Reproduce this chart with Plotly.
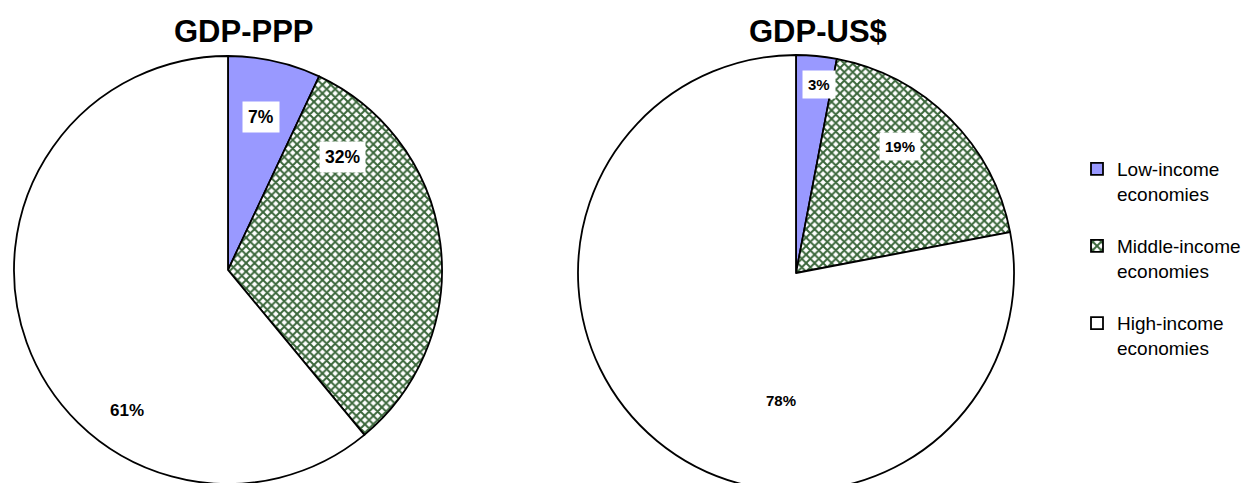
import math
import plotly.graph_objects as go

# ---- data ----
categories = ["Low-income<br>economies", "Middle-income<br>economies", "High-income<br>economies"]
ppp_values = [7, 32, 61]
usd_values = [3, 19, 78]
titles = ["GDP-PPP", "GDP-US$"]

# ---- layout geometry (pixels) ----
W, H = 1249, 495
pies = [dict(cx=228, cy=270, r=214), dict(cx=796, cy=273, r=218)]
title_x = [244, 818]
title_y = 32
# label placement: (angle clockwise from top in degrees, fraction of radius)
label_pos = [
    [(12.2, 0.73), (45.3, 0.75), (215.8, 0.81)],
    [(7.0, 0.87), (39.5, 0.75), (186.7, 0.59)],
]
label_size = [[17.5, 17.5, 17], [15, 15, 15]]

colors = ["#9999FF", "#FFFFFF", "#FFFFFF"]
shapes = ["", "x", ""]

fig = go.Figure()
annotations = []
for i, (vals, geo) in enumerate(zip([ppp_values, usd_values], pies)):
    x0 = (geo["cx"] - geo["r"]) / W
    x1 = (geo["cx"] + geo["r"]) / W
    y0 = 1 - (geo["cy"] + geo["r"]) / H
    y1 = 1 - (geo["cy"] - geo["r"]) / H
    fig.add_trace(go.Pie(
        labels=[c + "<br> " for c in categories],
        values=vals,
        sort=False,
        direction="clockwise",
        rotation=0,
        textinfo="none",
        hoverinfo="skip",
        showlegend=(i == 0),
        domain=dict(x=[x0, x1], y=[max(0, y0), y1]),
        marker=dict(
            colors=colors,
            line=dict(color="black", width=1.8),
            pattern=dict(shape=shapes, fgcolor="#3a663a", bgcolor="#FFFFFF",
                         size=6, solidity=0.55),
        ),
    ))
    for j, v in enumerate(vals):
        ang, frac = label_pos[i][j]
        px = geo["cx"] + frac * geo["r"] * math.sin(math.radians(ang))
        py = geo["cy"] - frac * geo["r"] * math.cos(math.radians(ang))
        annotations.append(dict(
            x=px / W, y=1 - py / H, xref="paper", yref="paper",
            xanchor="center", yanchor="middle",
            text=f"<b>{v}%</b>", showarrow=False,
            font=dict(family="Liberation Sans, Arial", size=label_size[i][j], color="black"),
            bgcolor="white" if j < 2 else "rgba(0,0,0,0)", borderpad=5,
        ))
    annotations.append(dict(
        x=title_x[i] / W, y=1 - title_y / H, xref="paper", yref="paper",
        xanchor="center", yanchor="middle",
        text=f"<b>{titles[i]}</b>", showarrow=False,
        font=dict(family="Liberation Sans, Arial", size=31, color="black"),
    ))

fig.update_layout(
    width=W, height=H,
    margin=dict(l=0, r=0, t=0, b=0),
    paper_bgcolor="white",
    plot_bgcolor="white",
    annotations=annotations,
    legend=dict(
        x=1077 / W, y=1 - 150 / H, xanchor="left", yanchor="top",
        font=dict(family="Liberation Sans, Arial", size=19, color="black"),
        valign="top",
        itemclick=False,
        tracegroupgap=0,
    ),
)

fig.write_html("out.html", post_script="document.body.style.overflow='hidden';document.documentElement.style.overflow='hidden';")
